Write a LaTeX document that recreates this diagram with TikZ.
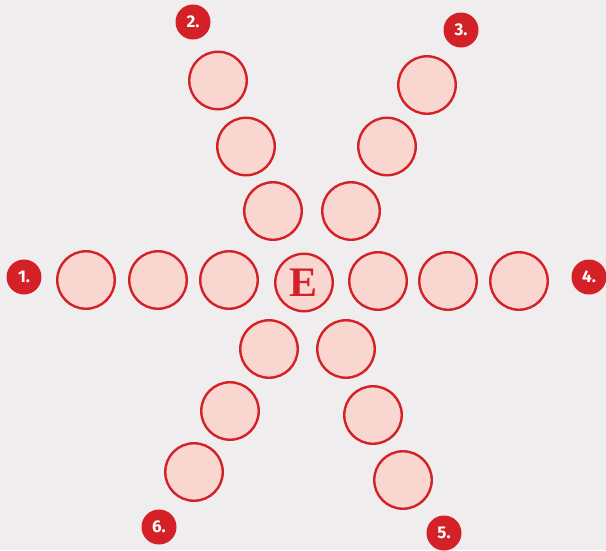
\documentclass[tikz,border=0pt]{standalone}
\usepackage{fontspec}
\newfontfamily\labfont{Fira Sans}
\newfontfamily\efont{Liberation Serif}
\definecolor{bg}{HTML}{EFEDEE}
\definecolor{cfill}{HTML}{FAD6D0}
\definecolor{cred}{HTML}{D42127}
\begin{document}
\begin{tikzpicture}[x=1pt,y=-1pt,
  dot/.style={circle,draw=cred,fill=cfill,line width=2.4pt,minimum size=57.5pt,inner sep=0pt},
  num/.style={circle,fill=cred,minimum size=35pt,inner sep=0pt,text=white,font=\labfont\bfseries\fontsize{17}{17}\selectfont}]
\fill[bg] (0,0) rectangle (606,550);
\useasboundingbox (0,0) rectangle (606,550);
% center
\node[dot,text=cred,font=\efont\bfseries\fontsize{42}{42}\selectfont] (e) at (304,282.5) {E};
% left row
\node[dot] (l1) at (229,280) {};
\node[dot] (l2) at (158,280) {};
\node[dot] (l3) at (86,280) {};
% right row
\node[dot] (r1) at (378,281) {};
\node[dot] (r2) at (448,281) {};
\node[dot] (r3) at (519,281) {};
% upper left
\node[dot] (ul1) at (273,211) {};
\node[dot] (ul2) at (246,146.5) {};
\node[dot] (ul3) at (218,80.5) {};
% upper right
\node[dot] (ur1) at (351,211) {};
\node[dot] (ur2) at (387,146.5) {};
\node[dot] (ur3) at (427,85) {};
% lower left
\node[dot] (ll1) at (269,349) {};
\node[dot] (ll2) at (230,411) {};
\node[dot] (ll3) at (194,472) {};
% lower right
\node[dot] (lr1) at (346,349) {};
\node[dot] (lr2) at (373,415) {};
\node[dot] (lr3) at (403,480) {};
% number labels
\node[num] (n1) at (24,277) {1.};
\node[num] (n2) at (193,22) {2.};
\node[num] (n3) at (461,30) {3.};
\node[num] (n4) at (589,277) {4.};
\node[num] (n5) at (444,533) {5.};
\node[num] (n6) at (159,527) {6.};
\end{tikzpicture}
\end{document}
